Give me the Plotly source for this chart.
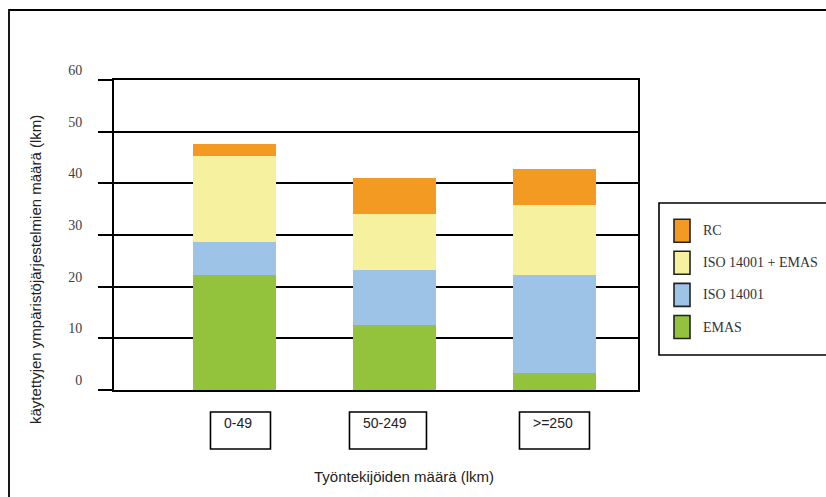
import plotly.graph_objects as go

categories = ["0-49", "50-249", ">=250"]
series_names = ["EMAS", "ISO 14001", "ISO 14001 + EMAS", "RC"]
emas = [22.3, 12.5, 3.2]
iso14001 = [6.3, 10.8, 19.0]
iso_emas = [16.6, 10.8, 13.6]
rc = [2.5, 7.0, 7.0]
series_values = [emas, iso14001, iso_emas, rc]
series_colors = ["#93C23D", "#9DC4E7", "#F5F19E", "#F39A22"]
y_ticks = [0, 10, 20, 30, 40, 50, 60]

# style: label box sizes (px) and shifts relative to category centre
box_widths = [60, 77, 70]
box_shifts = [6, -6.5, 0]

W, H = 826, 497
L, R, T, B = 114, 188, 80, 107
PW, PH = W - L - R, H - T - B


def px(xp):
    return (xp - L) / PW


def py(yp):
    return (H - B - yp) / PH


fig = go.Figure()
for name, vals, col in zip(series_names, series_values, series_colors):
    fig.add_trace(go.Bar(
        x=list(range(len(categories))), y=vals, name=name,
        marker=dict(color=col, line=dict(width=0)),
        width=0.52, showlegend=False,
    ))

shapes = []
annotations = []

# outer frame
shapes.append(dict(type="rect", xref="paper", yref="paper",
                   x0=px(9), x1=px(840), y0=py(510), y1=py(10),
                   line=dict(color="black", width=1.8), layer="below"))

# boxed category labels
for i, lab in enumerate(categories):
    half = box_widths[i] / 2
    x0 = box_shifts[i] - half
    shapes.append(dict(type="rect", xref="x", yref="paper",
                       xsizemode="pixel", ysizemode="pixel",
                       xanchor=i, yanchor=0,
                       x0=x0, x1=x0 + box_widths[i], y0=-22, y1=-59,
                       line=dict(color="black", width=1.6)))
    annotations.append(dict(text=lab, xref="x", yref="paper", x=i, y=0,
                            xanchor="left", yanchor="middle",
                            xshift=x0 + 12, yshift=-33, showarrow=False,
                            font=dict(family="Liberation Sans, Arial", size=14, color="#222")))

# custom legend
shapes.append(dict(type="rect", xref="paper", yref="paper",
                   x0=px(659), x1=px(840), y0=py(355), y1=py(203),
                   line=dict(color="black", width=1.6)))
leg_order = list(range(len(series_names)))[::-1]
for k, si in enumerate(leg_order):
    cy = 230.7 + k * 32.1
    shapes.append(dict(type="rect", xref="paper", yref="paper",
                       x0=px(674), x1=px(690), y0=py(cy + 11.5), y1=py(cy - 11.5),
                       fillcolor=series_colors[si],
                       line=dict(color="#222", width=1.6)))
    annotations.append(dict(text=series_names[si], xref="paper", yref="paper",
                            x=px(701), y=py(cy), xanchor="left", yanchor="middle",
                            showarrow=False,
                            font=dict(family="Liberation Serif, Times New Roman", size=14, color="#333")))

# axis titles
annotations.append(dict(text="käytettyjen ympäristöjärjestelmien määrä (lkm)",
                        xref="paper", yref="paper", x=px(35), y=py(270),
                        xanchor="center", yanchor="middle", textangle=-90,
                        showarrow=False,
                        font=dict(family="Liberation Sans, Arial", size=15, color="#222")))
annotations.append(dict(text="Työntekijöiden määrä (lkm)",
                        xref="paper", yref="paper", x=px(404), y=py(476),
                        xanchor="center", yanchor="middle",
                        showarrow=False,
                        font=dict(family="Liberation Sans, Arial", size=15, color="#222")))

fig.update_layout(
    width=W, height=H,
    margin=dict(l=L, r=R, t=T, b=B, pad=0),
    barmode="stack",
    plot_bgcolor="white", paper_bgcolor="white",
    shapes=shapes, annotations=annotations,
    xaxis=dict(range=[-0.753, 2.522], showticklabels=False, ticks="",
               showgrid=False, zeroline=False, showline=True, mirror=True,
               linecolor="black", linewidth=2),
    yaxis=dict(range=[0, 60], tickvals=y_ticks, ticktext=[str(v) for v in y_ticks],
               showgrid=True, gridcolor="black", gridwidth=2,
               zeroline=False, showline=True, mirror=True,
               linecolor="black", linewidth=2,
               ticks="outside", ticklen=14, tickwidth=2, tickcolor="black",
               ticklabelshift=-10, ticklabelstandoff=13,
               tickfont=dict(family="Liberation Serif, Times New Roman", size=14, color="#404040")),
)

fig.write_html("out.html")
